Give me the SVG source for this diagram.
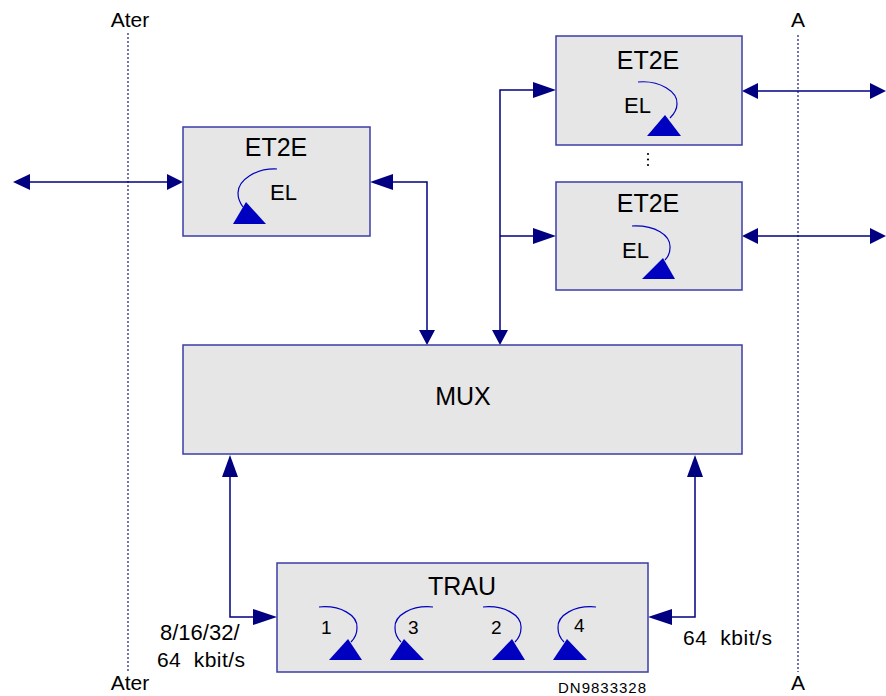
<svg xmlns="http://www.w3.org/2000/svg" width="886" height="696" viewBox="0 0 886 696">
<defs>
<style>
.box{fill:#e6e6e6;stroke:#3c3ca8;stroke-width:1.5}
.t{font-family:"Liberation Sans",Arial,sans-serif;fill:#000}
.title{font-size:25px;text-anchor:middle}
.el{font-size:22px}
.num{font-size:19px}
.lbl{font-size:21px}
.con{fill:none;stroke:#000080;stroke-width:1.5}
.ah{fill:#000080}
.loop{fill:none;stroke:#0000c0;stroke-width:1.2}
.tri{fill:#0000c0}
.dot{stroke:#5050a8;stroke-width:1.6;stroke-dasharray:2,2}
</style>
</defs>
<rect width="886" height="696" fill="#fff"/>
<g id="interfaces">
<line class="dot" x1="128" y1="33" x2="128" y2="672"/>
<line class="dot" x1="798" y1="35" x2="798" y2="672"/>
<text class="t lbl" x="130" y="27" text-anchor="middle">Ater</text>
<text class="t lbl" x="130" y="690" text-anchor="middle">Ater</text>
<text class="t lbl" x="798" y="27" text-anchor="middle">A</text>
<text class="t lbl" x="798" y="690" text-anchor="middle">A</text>
</g>
<g id="connectors">
<line class="con" x1="28" y1="182" x2="170" y2="182"/>
<polygon class="ah" points="13,182 30,174 30,190"/>
<polygon class="ah" points="183,182 167,174 167,190"/>
<polyline class="con" points="390,182 427,182 427,332"/>
<polygon class="ah" points="370,182 393,174 393,190"/>
<polygon class="ah" points="427,345 419,330 435,330"/>
<polyline class="con" points="536,90 500,90 500,332"/>
<line class="con" x1="500" y1="236" x2="536" y2="236"/>
<polygon class="ah" points="556,90 533,82 533,98"/>
<polygon class="ah" points="556,236 533,228 533,244"/>
<polygon class="ah" points="500,345 492,330 508,330"/>
<line class="con" x1="756" y1="91" x2="872" y2="91"/>
<polygon class="ah" points="742,91 758,83 758,99"/>
<polygon class="ah" points="886,91 870,83 870,99"/>
<line class="con" x1="756" y1="236" x2="872" y2="236"/>
<polygon class="ah" points="742,236 758,228 758,244"/>
<polygon class="ah" points="886,236 870,228 870,244"/>
<polyline class="con" points="230,475 230,617 256,617"/>
<polygon class="ah" points="230,455 222,477 238,477"/>
<polygon class="ah" points="277,617 253,609 253,625"/>
<polyline class="con" points="695,475 695,617 668,617"/>
<polygon class="ah" points="695,455 687,477 703,477"/>
<polygon class="ah" points="648,617 672,609 672,625"/>
</g>
<g id="et2e-left">
<rect class="box" x="183" y="127" width="187" height="109"/>
<text class="t title" x="276" y="156">ET2E</text>
<text class="t el" x="270" y="200">EL</text>
<path class="loop" d="M277,169 C256,168 238,180 238,193 C238,199 240,203 243,207"/>
<polygon class="tri" points="233,224 266,224 246,202"/>
</g>
<g id="et2e-top">
<rect class="box" x="556" y="36" width="186" height="109"/>
<text class="t title" x="648" y="69">ET2E</text>
<text class="t el" x="624" y="113">EL</text>
<path class="loop" d="M638,82 C660,80 678,92 677,104 C677,110 674,114 670,118"/>
<polygon class="tri" points="647,136 681,136 665,115"/>
</g>
<g id="ellipsis">
<circle cx="648" cy="154" r="1.1" fill="#000"/>
<circle cx="648" cy="159.5" r="1.1" fill="#000"/>
<circle cx="648" cy="165" r="1.1" fill="#000"/>
</g>
<g id="et2e-bottom">
<rect class="box" x="556" y="182" width="186" height="108"/>
<text class="t title" x="648" y="212">ET2E</text>
<text class="t el" x="622" y="258">EL</text>
<path class="loop" d="M632,226 C655,225 671,235 670,248 C670,253 668,257 665,260"/>
<polygon class="tri" points="642,279 675,279 663,258"/>
</g>
<g id="mux">
<rect class="box" x="183" y="345" width="559" height="109"/>
<text class="t title" x="463" y="405">MUX</text>
</g>
<g id="trau">
<rect class="box" x="277" y="563" width="371" height="109"/>
<text class="t title" x="462" y="595">TRAU</text>
<path class="loop" d="M319,607 C340,605 358,615 357,628 C357,634 355,638 351,642"/>
<polygon class="tri" points="329,660 362,660 348,639"/>
<text class="t num" x="321" y="634">1</text>
<path class="loop" d="M433,607 C412,605 394,615 395,628 C395,634 397,638 401,642"/>
<polygon class="tri" points="390,660 424,660 404,639"/>
<text class="t num" x="408" y="634">3</text>
<path class="loop" d="M483,607 C504,605 522,615 521,628 C521,634 519,638 515,642"/>
<polygon class="tri" points="492,660 525,660 512,639"/>
<text class="t num" x="491" y="634">2</text>
<path class="loop" d="M596,607 C575,605 557,615 558,628 C558,634 560,638 564,642"/>
<polygon class="tri" points="553,660 587,660 567,639"/>
<text class="t num" x="574" y="632">4</text>
</g>
<g id="labels">
<text class="t" x="160" y="640" font-size="22">8/16/32/</text>
<text class="t lbl" x="157" y="667" textLength="88" xml:space="preserve">64  kbit/s</text>
<text class="t lbl" x="683" y="645" textLength="89" xml:space="preserve">64  kbit/s</text>
<text class="t" x="558" y="693" font-size="15" textLength="88">DN9833328</text>
</g>
</svg>
